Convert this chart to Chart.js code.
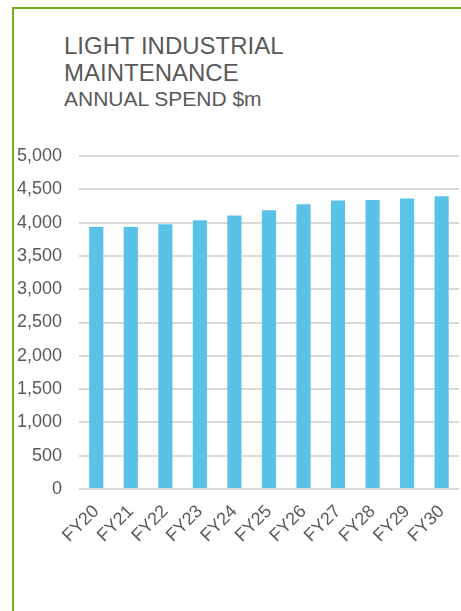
<!DOCTYPE html>
<html>
<head>
<meta charset="utf-8">
<script src="https://cdn.jsdelivr.net/npm/chart.js@4/dist/chart.umd.min.js"></script>
<style>
  html, body { margin: 0; padding: 0; background: #fff; }
  body { width: 461px; height: 611px; position: relative; overflow: hidden; font-family: "Liberation Sans", Arial, sans-serif; color: #595959; }
  .frame { position: absolute; left: 12px; top: 7px; right: 0; bottom: -10px; border-left: 2px solid #78a91f; border-top: 2px solid #78a91f; }
  .title { position: absolute; left: 64px; top: 32px; font-size: 24px; line-height: 27px; margin: 0; font-weight: normal; }
  .subtitle { position: absolute; left: 64px; top: 87px; font-size: 21px; line-height: 24px; margin: 0; }
  canvas { position: absolute; left: 0; top: 0; }
</style>
</head>
<body>
<div class="frame"></div>
<div class="title">LIGHT INDUSTRIAL<br>MAINTENANCE</div>
<div class="subtitle">ANNUAL SPEND $m</div>
<canvas id="spendChart" width="461" height="611"></canvas>
<script>
const categories = ["FY20", "FY21", "FY22", "FY23", "FY24", "FY25", "FY26", "FY27", "FY28", "FY29", "FY30"];
const spend = [3935, 3935, 3975, 4035, 4105, 4185, 4275, 4330, 4340, 4360, 4395];
const yMin = 0;
const yMax = 5000;
const yStep = 500;

const grey = "#595959";
const gridGrey = "#d9d9d9";
const barBlue = "#5bc2e7";

new Chart(document.getElementById("spendChart"), {
  type: "bar",
  data: {
    labels: categories,
    datasets: [
      {
        data: spend,
        backgroundColor: barBlue,
        borderWidth: 0,
        barPercentage: 0.41,
        categoryPercentage: 1,
      },
    ],
  },
  options: {
    responsive: false,
    animation: false,
    layout: {
      padding: { top: 156, left: 0, right: 2, bottom: 0 },
    },
    plugins: {
      legend: { display: false },
      tooltip: { enabled: false },
    },
    scales: {
      x: {
        grid: { display: false },
        border: { display: false },
        ticks: {
          color: grey,
          font: { family: "Liberation Sans", size: 18 },
          minRotation: 45,
          maxRotation: 45,
          autoSkip: false,
          padding: 4,
        },
        afterFit: (scale) => {
          scale.height = 122;
        },
      },
      y: {
        min: yMin,
        max: yMax,
        grid: { color: gridGrey, lineWidth: 2, drawTicks: false },
        border: { display: false },
        ticks: {
          stepSize: yStep,
          color: grey,
          font: { family: "Liberation Sans", size: 18 },
          padding: 17,
        },
        afterFit: (scale) => {
          scale.width = 79;
        },
      },
    },
  },
});
</script>
</body>
</html>
